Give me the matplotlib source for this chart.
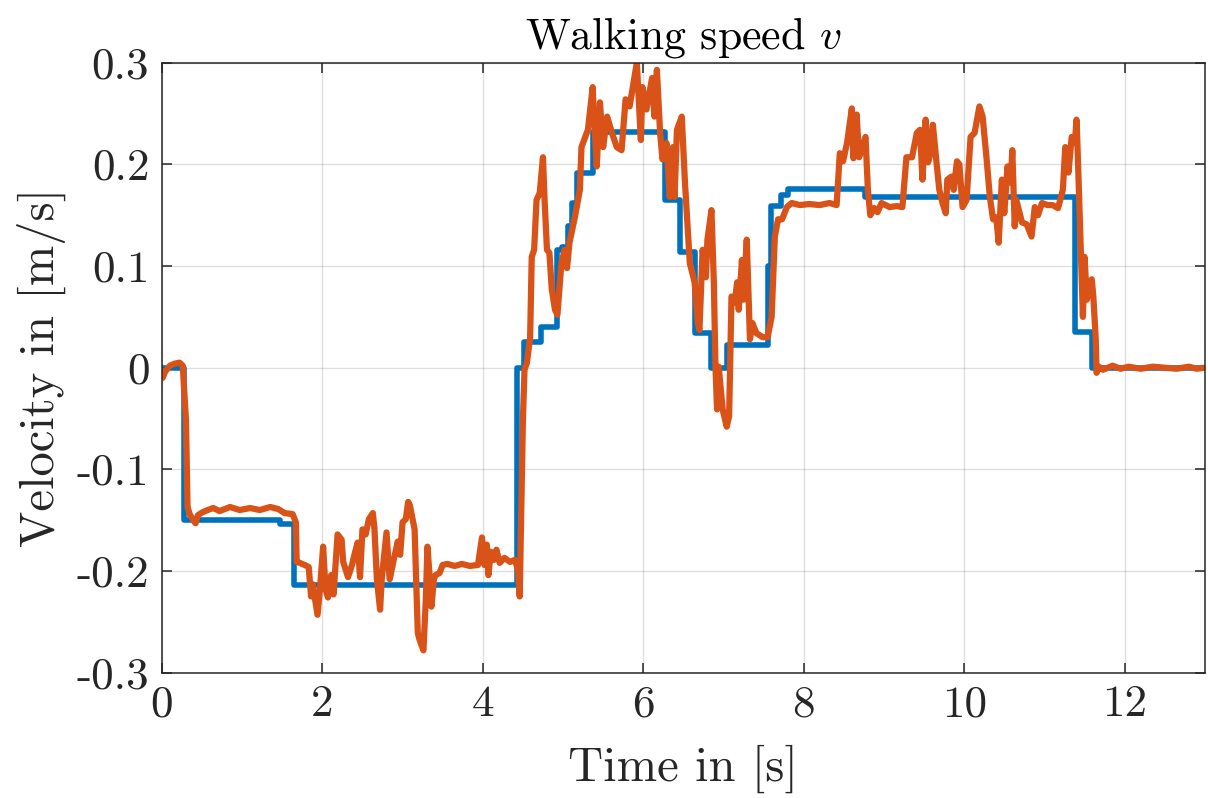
import matplotlib
matplotlib.use("Agg")
import matplotlib.pyplot as plt
from matplotlib.ticker import FuncFormatter

plt.rcParams['font.family'] = ['cmr10', 'DejaVu Serif']
plt.rcParams['mathtext.fontset'] = 'cm'
plt.rcParams['axes.unicode_minus'] = False

# reference speed (step signal)
ref_t = [0.0, 0.27, 1.47, 1.65, 4.43, 4.51, 4.73, 4.93, 4.99, 5.06, 5.11, 5.17,
         5.37, 6.27, 6.46, 6.64, 6.85, 7.04, 7.56, 7.59, 7.72, 7.80, 8.76,
         11.38, 11.59, 13.0]
ref_v = [0.0, -0.150, -0.154, -0.214, 0.0, 0.025, 0.040, 0.116, 0.119, 0.139, 0.162, 0.192,
         0.232, 0.165, 0.114, 0.034, 0.0, 0.022, 0.100, 0.159, 0.170, 0.176, 0.168,
         0.035, 0.0, 0.0]

# measured walking speed
meas_t = [0.00, 0.01, 0.04, 0.10, 0.16, 0.22, 0.26, 0.30, 0.32, 0.35, 0.37, 0.40, 0.42,
          0.45, 0.51, 0.57, 0.64, 0.72, 0.85, 0.97, 1.10, 1.22, 1.35, 1.45, 1.53, 1.63,
          1.67, 1.68, 1.72, 1.78, 1.83, 1.86, 1.88, 1.94, 1.97, 2.01, 2.04, 2.07, 2.11,
          2.14, 2.19, 2.24, 2.26, 2.32, 2.37, 2.40, 2.44, 2.47, 2.50, 2.54, 2.58, 2.63,
          2.65, 2.68, 2.72, 2.74, 2.80, 2.83, 2.84, 2.89, 2.94, 2.97, 3.00, 3.04, 3.07,
          3.09, 3.15, 3.19, 3.21, 3.26, 3.29, 3.31, 3.34, 3.36, 3.39, 3.41, 3.46, 3.50,
          3.56, 3.65, 3.74, 3.84, 3.94, 3.99, 4.02, 4.05, 4.07, 4.10, 4.14, 4.17, 4.21,
          4.27, 4.34, 4.40, 4.44, 4.46, 4.50, 4.52, 4.55, 4.59, 4.61, 4.64, 4.67, 4.71,
          4.75, 4.77, 4.80, 4.83, 4.86, 4.90, 4.93, 4.98, 5.02, 5.05, 5.08, 5.15, 5.21,
          5.23, 5.31, 5.37, 5.38, 5.42, 5.46, 5.50, 5.55, 5.61, 5.67, 5.73, 5.78, 5.83,
          5.87, 5.92, 5.97, 5.99, 6.04, 6.11, 6.14, 6.17, 6.21, 6.24, 6.29, 6.33, 6.37,
          6.39, 6.42, 6.48, 6.52, 6.55, 6.58, 6.64, 6.68, 6.70, 6.74, 6.78, 6.80, 6.85,
          6.88, 6.90, 6.92, 6.94, 6.99, 7.04, 7.07, 7.10, 7.14, 7.17, 7.19, 7.23, 7.25,
          7.29, 7.33, 7.36, 7.41, 7.49, 7.55, 7.60, 7.64, 7.68, 7.73, 7.79, 7.85, 7.95,
          8.07, 8.20, 8.32, 8.41, 8.45, 8.49, 8.54, 8.60, 8.62, 8.66, 8.69, 8.72, 8.77,
          8.80, 8.83, 8.88, 8.92, 8.97, 9.07, 9.16, 9.23, 9.28, 9.35, 9.41, 9.45, 9.48,
          9.52, 9.55, 9.58, 9.61, 9.66, 9.69, 9.73, 9.77, 9.79, 9.84, 9.87, 9.91, 9.94,
          9.98, 10.03, 10.08, 10.13, 10.19, 10.23, 10.28, 10.32, 10.36, 10.40, 10.43,
          10.47, 10.50, 10.54, 10.58, 10.60, 10.63, 10.65, 10.72, 10.78, 10.84, 10.88,
          10.92, 10.97, 11.04, 11.10, 11.17, 11.23, 11.26, 11.30, 11.34, 11.38, 11.40,
          11.41, 11.45, 11.48, 11.50, 11.53, 11.55, 11.59, 11.61, 11.64, 11.65, 11.68,
          11.73, 11.85, 11.95, 12.05, 12.2, 12.35, 12.5, 12.65, 12.8, 12.9, 13.0]
meas_v = [-0.004, -0.010, -0.004, 0.002, 0.004, 0.005, 0.002, -0.051, -0.137, -0.145, -0.147, -0.151, -0.153,
          -0.145, -0.142, -0.140, -0.138, -0.141, -0.137, -0.140, -0.138, -0.140, -0.137, -0.139, -0.143, -0.144,
          -0.152, -0.191, -0.192, -0.194, -0.196, -0.225, -0.213, -0.243, -0.218, -0.176, -0.218, -0.226, -0.204,
          -0.223, -0.164, -0.169, -0.191, -0.206, -0.194, -0.184, -0.172, -0.206, -0.159, -0.164, -0.149, -0.143,
          -0.159, -0.208, -0.238, -0.208, -0.162, -0.199, -0.208, -0.189, -0.171, -0.184, -0.152, -0.149, -0.132,
          -0.135, -0.159, -0.261, -0.267, -0.278, -0.228, -0.176, -0.208, -0.235, -0.208, -0.204, -0.202, -0.194,
          -0.193, -0.195, -0.193, -0.195, -0.194, -0.167, -0.194, -0.174, -0.204, -0.181, -0.189, -0.179, -0.192,
          -0.187, -0.191, -0.189, -0.199, -0.225, -0.051, -0.002, 0.005, 0.030, 0.109, 0.116, 0.165, 0.172,
          0.207, 0.165, 0.116, 0.113, 0.077, 0.057, 0.052, 0.103, 0.116, 0.098, 0.123, 0.149, 0.175,
          0.217, 0.234, 0.276, 0.254, 0.198, 0.261, 0.217, 0.247, 0.231, 0.217, 0.214, 0.264, 0.257,
          0.276, 0.300, 0.224, 0.276, 0.254, 0.285, 0.247, 0.293, 0.231, 0.205, 0.221, 0.168, 0.217,
          0.168, 0.234, 0.247, 0.182, 0.143, 0.103, 0.084, 0.044, 0.037, 0.116, 0.089, 0.126, 0.155,
          0.084, 0.001, -0.041, 0.001, -0.041, -0.058, -0.048, 0.070, 0.064, 0.084, 0.057, 0.106, 0.067,
          0.126, 0.028, 0.044, 0.034, 0.030, 0.030, 0.050, 0.129, 0.146, 0.146, 0.158, 0.162, 0.160,
          0.161, 0.160, 0.162, 0.160, 0.211, 0.203, 0.221, 0.255, 0.206, 0.249, 0.207, 0.214, 0.227,
          0.175, 0.150, 0.157, 0.153, 0.162, 0.158, 0.159, 0.158, 0.207, 0.207, 0.231, 0.234, 0.185,
          0.244, 0.202, 0.211, 0.239, 0.198, 0.175, 0.162, 0.152, 0.185, 0.188, 0.175, 0.203, 0.200,
          0.158, 0.165, 0.227, 0.231, 0.257, 0.247, 0.205, 0.168, 0.146, 0.148, 0.123,
          0.185, 0.152, 0.198, 0.182, 0.214, 0.139, 0.165, 0.143, 0.141, 0.129, 0.158,
          0.150, 0.162, 0.160, 0.160, 0.157, 0.175, 0.217, 0.192, 0.227, 0.221, 0.244,
          0.224, 0.126, 0.050, 0.109, 0.067, 0.080, 0.087, 0.070, 0.028, -0.005, 0.001,
          -0.002, 0.002, -0.001, 0.001, -0.001, 0.001, 0.0, -0.001, 0.001, -0.001, 0.0]

x_ticks = [0, 2, 4, 6, 8, 10, 12]
y_ticks = [-0.3, -0.2, -0.1, 0, 0.1, 0.2, 0.3]

fig = plt.figure(figsize=(12.08, 7.98), dpi=100)
ax = fig.add_axes([0.134, 0.157, 0.8634, 0.7644])

ax.plot(ref_t, ref_v, drawstyle='steps-post', color='#0072BD', lw=4.0)
ax.plot(meas_t, meas_v, color='#D95319', lw=4.5, solid_joinstyle='round')

ax.set_xlim(0, 13)
ax.set_ylim(-0.3, 0.3)
ax.set_xticks(x_ticks)
ax.set_yticks(y_ticks)
ax.yaxis.set_major_formatter(FuncFormatter(lambda v, p: '0' if abs(v) < 1e-9 else '%.1f' % v))

ax.grid(True, color='#262626', alpha=0.15, lw=1.0)
ax.set_axisbelow(True)
for s in ax.spines.values():
    s.set_color('#262626')
    s.set_linewidth(1.1)
ax.tick_params(direction='in', length=7, width=1.1, colors='#262626',
               labelsize=32.5, pad=9, top=True, right=True,
               labeltop=False, labelright=False)

ax.set_xlabel('Time in [s]', fontsize=35, color='#262626', labelpad=14)
ax.set_ylabel('Velocity in [m/s]', fontsize=35, color='#262626', labelpad=8)
ax.set_title('Walking speed $v$', fontsize=31.5, color='#000000', pad=10)

fig.savefig('out.png', dpi=100)
